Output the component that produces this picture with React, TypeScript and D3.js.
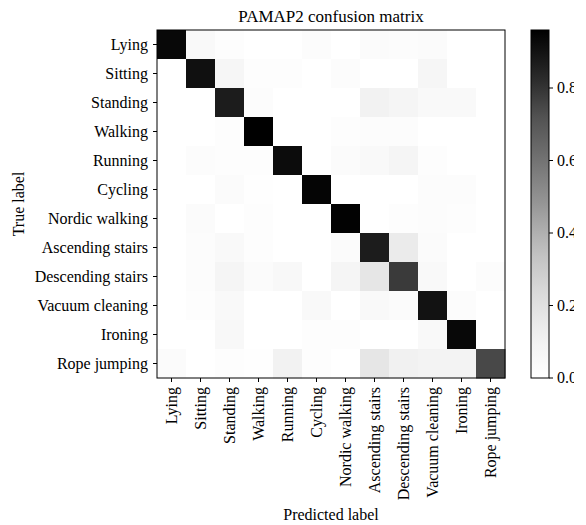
import React from 'react';
import * as d3 from 'd3';

const labels = [
  'Lying', 'Sitting', 'Standing', 'Walking', 'Running', 'Cycling',
  'Nordic walking', 'Ascending stairs', 'Descending stairs', 'Vacuum cleaning',
  'Ironing', 'Rope jumping',
];

// rows = true label, columns = predicted label
const lying = [0.935, 0.048, 0.016, 0, 0, 0.024, 0, 0.032, 0.024, 0.032, 0, 0];
const sitting = [0, 0.908, 0.072, 0.016, 0.016, 0, 0.024, 0, 0, 0.072, 0, 0];
const standing = [0, 0, 0.87, 0.024, 0, 0, 0, 0.104, 0.08, 0.048, 0.048, 0];
const walking = [0, 0, 0.016, 0.96, 0, 0, 0.016, 0.024, 0.024, 0, 0, 0];
const running = [0, 0.024, 0.016, 0.016, 0.92, 0, 0.032, 0.048, 0.08, 0.016, 0, 0];
const cycling = [0, 0, 0.032, 0.008, 0, 0.944, 0, 0, 0, 0.024, 0.024, 0];
const nordic = [0, 0.032, 0, 0.016, 0, 0, 0.955, 0, 0.016, 0.024, 0.016, 0];
const ascending = [0, 0.024, 0.048, 0.016, 0, 0, 0.032, 0.87, 0.146, 0.032, 0, 0];
const descending = [0, 0.024, 0.08, 0.032, 0.056, 0, 0.08, 0.172, 0.784, 0.048, 0, 0.024];
const vacuum = [0, 0.016, 0.048, 0, 0, 0.048, 0, 0.048, 0.032, 0.9, 0.024, 0];
const ironing = [0, 0, 0.056, 0, 0, 0.016, 0.016, 0, 0, 0.048, 0.934, 0];
const ropeJumping = [0.032, 0, 0.016, 0.008, 0.104, 0.016, 0, 0.172, 0.112, 0.096, 0.096, 0.747];

const matrix = [lying, sitting, standing, walking, running, cycling, nordic,
  ascending, descending, vacuum, ironing, ropeJumping];

const colorbarTicks = [0, 0.2, 0.4, 0.6, 0.8];
const vmax = 0.96;

// matplotlib "Greys" colormap (linear segments)
const greys = d3.scaleLinear<string>()
  .domain(d3.range(9).map(i => i / 8))
  .range(['#ffffff', '#f0f0f0', '#d9d9d9', '#bdbdbd', '#969696', '#737373', '#525252', '#252525', '#000000'])
  .clamp(true);

const font = '"Liberation Serif", "Times New Roman", serif';

export default function App() {
  const W = 586, H = 525;
  const left = 157, top = 30, size = 348;
  const cbX = 531, cbW = 18;

  const x = d3.scaleBand<number>().domain(d3.range(12)).range([left, left + size]);
  const y = d3.scaleBand<number>().domain(d3.range(12)).range([top, top + size]);
  const cb = d3.scaleLinear().domain([0, vmax]).range([top + size, top]);

  const stops = d3.range(0, 1.0001, 0.05);

  return (
    <div style={{ position: 'absolute', left: 0, top: 0 }}>
      <svg width={W} height={H} style={{ display: 'block', background: '#fff' }} fontFamily={font}>
        <defs>
          <linearGradient id="cbgrad" x1="0" y1="1" x2="0" y2="0">
            {stops.map(s => (
              <stop key={s} offset={s} stopColor={greys(s)} />
            ))}
          </linearGradient>
          <clipPath id="cbclip">
            <rect x={0} y={0} width={574} height={H} />
          </clipPath>
        </defs>

        <text x={left + size / 2} y={22} textAnchor="middle" fontSize={17}>PAMAP2 confusion matrix</text>

        {matrix.map((row, i) => row.map((v, j) => (
          <rect key={`${i}-${j}`} x={x(j)} y={y(i)} width={x.bandwidth() + 0.5} height={y.bandwidth() + 0.5}
            fill={greys(v / vmax)} />
        )))}
        <rect x={left} y={top} width={size} height={size} fill="none" stroke="#000" strokeWidth={1} />

        {labels.map((l, i) => {
          const cy = y(i)! + y.bandwidth() / 2;
          return (
            <g key={`y${i}`}>
              <line x1={left - 4} x2={left} y1={cy} y2={cy} stroke="#000" />
              <text x={left - 9} y={cy} dy="0.33em" textAnchor="end" fontSize={16}>{l}</text>
            </g>
          );
        })}
        {labels.map((l, i) => {
          const cx = x(i)! + x.bandwidth() / 2;
          return (
            <g key={`x${i}`}>
              <line x1={cx} x2={cx} y1={top + size} y2={top + size + 4} stroke="#000" />
              <text transform={`translate(${cx},${top + size + 9}) rotate(-90)`} dy="0.33em" textAnchor="end" fontSize={16}>{l}</text>
            </g>
          );
        })}

        <text transform={`translate(24,${top + size / 2}) rotate(-90)`} textAnchor="middle" fontSize={16}>True label</text>
        <text x={left + size / 2} y={520} textAnchor="middle" fontSize={16}>Predicted label</text>

        <rect x={cbX} y={top} width={cbW} height={size} fill="url(#cbgrad)" stroke="#000" strokeWidth={1} />
        <g clipPath="url(#cbclip)">
          {colorbarTicks.map(t => (
            <g key={`c${t}`}>
              <line x1={cbX + cbW} x2={cbX + cbW + 4} y1={cb(t)} y2={cb(t)} stroke="#000" />
              <text x={cbX + cbW + 8} y={cb(t)} dy="0.33em" fontSize={16}>{d3.format('.1f')(t)}</text>
            </g>
          ))}
        </g>
      </svg>
    </div>
  );
}
